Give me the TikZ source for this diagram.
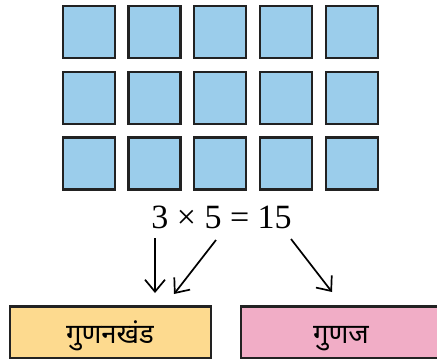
\documentclass[tikz,border=0pt]{standalone}
\usepackage{fontspec}
\setmainfont{Liberation Serif}
\newfontfamily\devfont[Script=Devanagari]{Noto Sans}
\usetikzlibrary{arrows.meta}
\definecolor{tileblue}{HTML}{9BCDEB}
\definecolor{edgegray}{HTML}{222222}
\definecolor{factoryellow}{HTML}{FDDA8F}
\definecolor{productpink}{HTML}{F1ADC6}
\tikzset{
  tile/.style={draw=edgegray, fill=tileblue, line width=2.2pt},
  labelbox/.style={draw=edgegray, line width=2.4pt},
  pointer/.style={line width=1.7pt, -{Straight Barb[length=12pt,width=20pt,line width=1.7pt]}},
  devlabel/.style={font=\devfont\fontsize{27.5}{32}\selectfont, anchor=base, inner sep=0pt}
}
\begin{document}
\begin{tikzpicture}[x=1pt,y=-1pt]
\useasboundingbox (0,0) rectangle (437,360);
% 3 x 5 grid of tiles
\foreach \r [count=\ri] in {32,97.7,163.5}{
  \foreach \c [count=\ci] in {89,154.5,220,286,351.7}{
    \draw[tile] (\c-26,\r-26) rectangle (\c+26,\r+26);
  }
}
% equation
\node[anchor=base, font=\fontsize{34}{40}\selectfont, inner sep=0pt] (eq) at (221.5,228) {3 × 5 = 15};
\coordinate (a1s) at (155,238);
\coordinate (a1e) at (155,293);
\coordinate (a2s) at (216,240);
\coordinate (a2e) at (174,294);
\coordinate (a3s) at (291,239);
\coordinate (a3e) at (332,292);
% boxes
\draw[labelbox, fill=factoryellow] (10,306.5) rectangle (211,358);
\draw[labelbox, fill=productpink] (241,306.5) rectangle (442,358);
\node[devlabel] (factors) at (110,343) {गुणनखंड};
\node[devlabel] (product) at (341,343) {गुणज};
% pointers
\draw[pointer] (a1s) -- (a1e);
\draw[pointer] (a2s) -- (a2e);
\draw[pointer] (a3s) -- (a3e);
\end{tikzpicture}
\end{document}
